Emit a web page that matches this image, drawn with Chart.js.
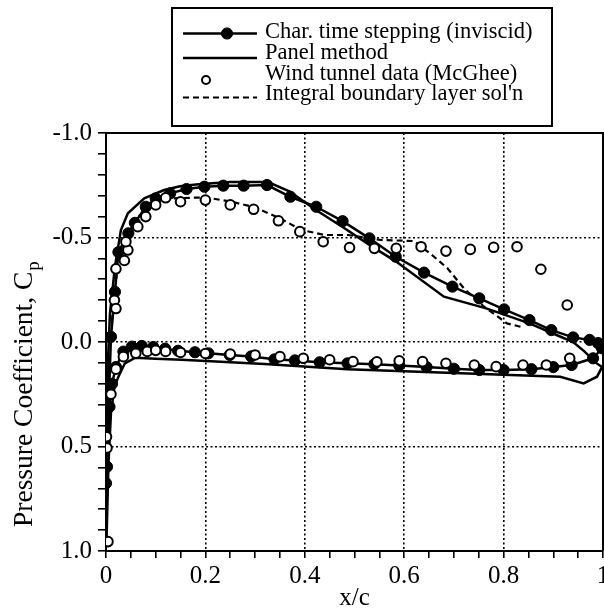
<!DOCTYPE html>
<html><head><meta charset="utf-8">
<script src="https://cdn.jsdelivr.net/npm/chart.js@4.4.1/dist/chart.umd.min.js"></script>
<style>html,body{margin:0;padding:0;background:#fff;overflow:hidden;width:604px;height:613px}canvas{display:block}</style>
</head><body><canvas id="c" width="640" height="613"></canvas>
<script>
// Characteristic time stepping (inviscid): lower surface TE->LE, then upper surface LE->TE
const charX = [0.998,0.980,0.937,0.900,0.856,0.800,0.751,0.700,0.645,0.590,0.540,0.486,0.430,0.380,0.339,0.292,0.249,0.206,0.179,0.145,0.119,0.095,0.072,0.052,0.035,0.020,0.012,0.007,0.002,0.000,
               0.010,0.018,0.025,0.045,0.058,0.080,0.100,0.129,0.162,0.198,0.236,0.277,0.324,0.371,0.423,0.476,0.530,0.583,0.640,0.697,0.751,0.801,0.852,0.896,0.940,0.973,0.990];
const charY = [0.030,0.078,0.110,0.120,0.130,0.134,0.134,0.128,0.120,0.112,0.106,0.102,0.097,0.088,0.083,0.069,0.062,0.054,0.049,0.042,0.032,0.024,0.019,0.022,0.046,0.120,0.200,0.310,0.597,0.676,
               -0.025,-0.240,-0.430,-0.520,-0.570,-0.647,-0.687,-0.711,-0.732,-0.743,-0.748,-0.748,-0.751,-0.695,-0.647,-0.578,-0.496,-0.408,-0.332,-0.265,-0.209,-0.156,-0.105,-0.057,-0.022,-0.010,0.005];
// Panel method
const panelX = [0.998,0.988,0.961,0.914,0.700,0.486,0.319,0.152,0.100,0.059,0.038,0.025,0.017,0.010,0.005,0.001,
                0.004,0.008,0.018,0.030,0.044,0.077,0.117,0.149,0.186,0.250,0.326,0.370,0.420,0.476,0.533,0.583,0.680,0.765,0.852,0.910,0.940,0.963,0.986,0.998];
const panelY = [0.120,0.166,0.198,0.166,0.148,0.130,0.105,0.085,0.080,0.075,0.102,0.166,0.214,0.340,0.580,0.950,
                0.086,-0.137,-0.360,-0.536,-0.616,-0.687,-0.727,-0.745,-0.755,-0.765,-0.765,-0.720,-0.635,-0.550,-0.460,-0.386,-0.217,-0.161,-0.089,-0.030,0.000,0.046,0.100,0.120];
// Wind tunnel data (McGhee)
const windX = [0.004,0.002,0.001,0.010,0.017,0.020,0.020,0.037,0.044,0.040,0.064,0.080,0.100,0.120,0.150,0.200,0.250,0.297,0.347,0.390,0.437,0.490,0.540,0.584,0.634,0.684,0.733,0.780,0.827,0.875,0.928,
               0.020,0.035,0.060,0.083,0.100,0.120,0.150,0.200,0.250,0.300,0.350,0.397,0.450,0.497,0.545,0.590,0.637,0.684,0.741,0.785,0.839,0.886,0.933];
const windY = [0.955,0.507,0.453,0.250,-0.200,-0.160,-0.350,-0.390,-0.440,-0.480,-0.552,-0.600,-0.656,-0.690,-0.671,-0.679,-0.656,-0.635,-0.580,-0.528,-0.480,-0.452,-0.448,-0.448,-0.456,-0.435,-0.443,-0.453,-0.456,-0.348,-0.177,
               0.130,0.070,0.054,0.045,0.040,0.045,0.050,0.055,0.058,0.062,0.070,0.078,0.085,0.094,0.095,0.090,0.094,0.102,0.110,0.118,0.110,0.110,0.078];
// Integral boundary layer solution
const blX = [0.012,0.020,0.030,0.045,0.065,0.090,0.130,0.200,0.253,0.300,0.350,0.393,0.440,0.487,0.553,0.620,0.660,0.687,0.720,0.760,0.807,0.834];
const blY = [-0.100,-0.300,-0.420,-0.520,-0.600,-0.650,-0.687,-0.692,-0.671,-0.644,-0.592,-0.536,-0.512,-0.512,-0.488,-0.483,-0.408,-0.353,-0.257,-0.170,-0.089,-0.073];

const seriesNames = ['Char. time stepping (inviscid)', 'Panel method', 'Wind tunnel data (McGhee)', "Integral boundary layer sol'n"];
const xTickLabels = ['0','0.2','0.4','0.6','0.8','1'];
const yTickLabels = ['-1.0','-0.5','0.0','0.5','1.0'];
const xTitle = 'x/c';
const yTitle = 'Pressure Coefficient, C';
const yTitleSub = 'p';

const SERIF = '"Liberation Serif", "Times New Roman", serif';
const pts = (xs, ys) => xs.map((x, i) => ({x: x, y: ys[i]}));
const near = (v, step) => Math.abs(v / step - Math.round(v / step)) < 1e-6;

const frameAndLegend = {
  id: 'frameAndLegend',
  afterDraw(chart) {
    const ctx = chart.ctx, a = chart.chartArea;
    const ds = chart.data.datasets;
    ctx.save();
    // top and right frame
    ctx.strokeStyle = '#000'; ctx.lineWidth = 2; ctx.setLineDash([]);
    ctx.beginPath(); ctx.moveTo(a.left, a.top); ctx.lineTo(a.right, a.top); ctx.lineTo(a.right, a.bottom); ctx.stroke();
    // legend box
    const L = 172, T = 8, R = 552, B = 126;
    ctx.lineWidth = 2;
    ctx.strokeRect(L, T, R - L, B - T);
    const sx0 = 183, sx1 = 257, tx = 265;
    const sampleY = [33.5, 58, 80, 97.5];
    const baseY = [38, 59, 80, 99.5];
    for (let i = 0; i < 4; i++) {
      const d = ds[i];
      const y = sampleY[i];
      if (d.showLine) {
        ctx.save();
        ctx.strokeStyle = d.borderColor; ctx.lineWidth = d.borderWidth;
        ctx.setLineDash(d.borderDash || []);
        ctx.beginPath(); ctx.moveTo(sx0, y); ctx.lineTo(sx1, y); ctx.stroke();
        ctx.restore();
      }
      if (d.pointRadius > 0) {
        const px = d.showLine ? 227 : 206;
        ctx.beginPath(); ctx.arc(px, y, d.showLine ? d.pointRadius : 4, 0, Math.PI * 2);
        ctx.fillStyle = d.pointBackgroundColor; ctx.fill();
        ctx.lineWidth = d.pointBorderWidth; ctx.strokeStyle = d.pointBorderColor; ctx.stroke();
      }
      ctx.fillStyle = '#000';
      ctx.font = '22.5px ' + SERIF;
      ctx.textAlign = 'left'; ctx.textBaseline = 'alphabetic';
      ctx.fillText(d.label, tx, baseY[i]);
    }
    // y axis title with subscript
    ctx.translate(32, 527);
    ctx.rotate(-Math.PI / 2);
    ctx.font = '27.5px ' + SERIF;
    ctx.textAlign = 'left'; ctx.textBaseline = 'alphabetic';
    ctx.fillText(yTitle, 0, 0);
    const w = ctx.measureText(yTitle).width;
    ctx.font = '19px ' + SERIF;
    ctx.fillText(yTitleSub, w + 1, 7);
    ctx.restore();
  }
};

new Chart(document.getElementById('c'), {
  type: 'scatter',
  data: {
    datasets: [
      {label: seriesNames[0], data: pts(charX, charY), showLine: true, borderColor: '#000', borderWidth: 2.5,
       pointRadius: 5.6, pointBackgroundColor: '#000', pointBorderColor: '#000', pointBorderWidth: 1, order: 1},
      {label: seriesNames[1], data: pts(panelX, panelY), showLine: true, borderColor: '#000', borderWidth: 2.5,
       pointRadius: 0, order: 2},
      {label: seriesNames[2], data: pts(windX, windY), showLine: false, borderColor: '#000',
       pointRadius: 4.8, pointBackgroundColor: '#fff', pointBorderColor: '#000', pointBorderWidth: 2, order: 0},
      {label: seriesNames[3], data: pts(blX, blY), showLine: true, borderColor: '#000', borderWidth: 2.2, borderDash: [6, 4],
       pointRadius: 0, order: 3}
    ]
  },
  options: {
    responsive: false, animation: false, devicePixelRatio: 1,
    layout: {padding: {top: 133, right: 37, left: 0, bottom: 0}},
    plugins: {legend: {display: false}, tooltip: {enabled: false}, title: {display: false}},
    elements: {line: {tension: 0}},
    scales: {
      x: {
        type: 'linear', min: 0, max: 1,
        afterFit: s => { s.height = 62; },
        ticks: {stepSize: 0.05, autoSkip: false, maxRotation: 0, minRotation: 0, padding: 3, color: '#000',
                font: {family: SERIF, size: 25},
                callback: v => near(v, 0.2) ? xTickLabels[Math.round(v / 0.2)] : ''},
        grid: {
          color: c => (c.tick && near(c.tick.value, 0.2) && c.tick.value > 0.01 && c.tick.value < 0.99) ? '#000' : 'rgba(0,0,0,0)',
          lineWidth: 1.6, tickColor: '#000', tickLength: 7, tickWidth: 1.6, tickBorderDash: []
        },
        border: {display: true, color: '#000', width: 2, dash: [2, 2.5]},
        title: {display: true, text: xTitle, color: '#000', font: {family: SERIF, size: 25}, padding: {top: 0, bottom: 0}}
      },
      y: {
        type: 'linear', min: -1, max: 1, reverse: true,
        afterFit: s => { s.width = 106; },
        ticks: {stepSize: 0.1, autoSkip: false, padding: 6, color: '#000',
                font: {family: SERIF, size: 25},
                callback: v => near(v + 1, 0.5) ? yTickLabels[Math.round((v + 1) / 0.5)] : ''},
        grid: {
          color: c => (c.tick && near(c.tick.value + 1, 0.5) && Math.abs(c.tick.value) < 0.99) ? '#000' : 'rgba(0,0,0,0)',
          lineWidth: 1.6, tickColor: '#000', tickLength: 8, tickWidth: 1.6, tickBorderDash: []
        },
        border: {display: true, color: '#000', width: 2, dash: [2, 2.5]}
      }
    }
  },
  plugins: [frameAndLegend]
});
</script>
</body></html>
